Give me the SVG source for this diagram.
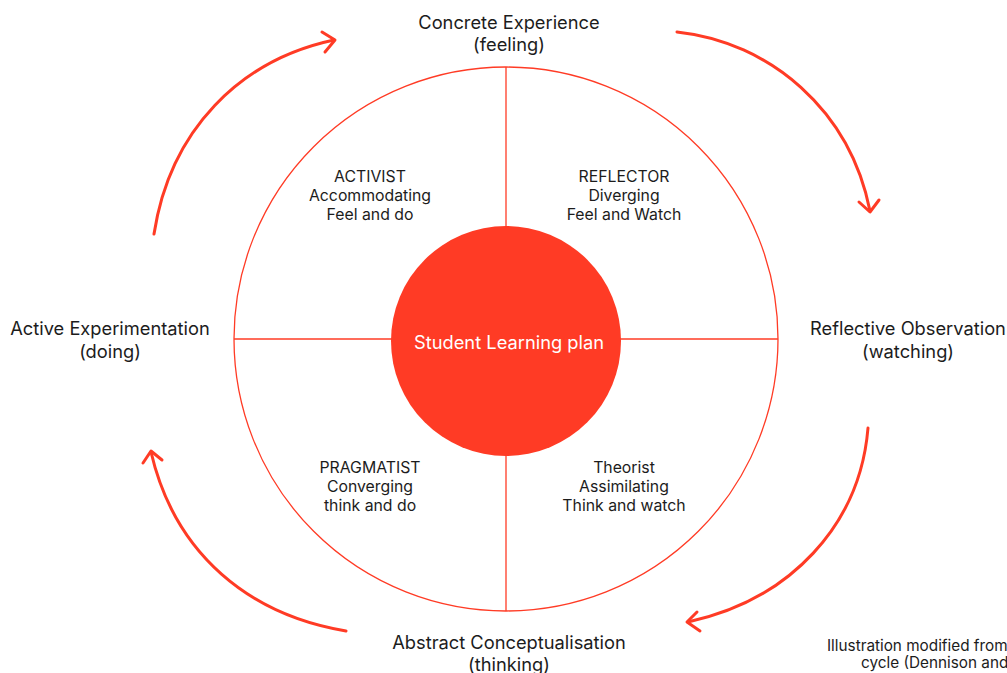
<svg xmlns="http://www.w3.org/2000/svg" width="1007" height="673" viewBox="0 0 1007 673">
<style>
.t{font-family:Inter,"Liberation Sans",sans-serif;fill:#1c1c1c;text-anchor:middle}
.big{font-size:18.3px}
.q{font-size:15.8px}
.n{font-family:Inter,"Liberation Sans",sans-serif;fill:#1c1c1c;font-size:15.3px}
.thin{fill:none;stroke:#FF3B25;stroke-width:1.3}
.arc{fill:none;stroke:#FF3B25;stroke-width:3;stroke-linecap:round;stroke-linejoin:round}
</style>
<rect width="1007" height="673" fill="#ffffff"/>
<g id="outer-circle">
<circle cx="506" cy="339" r="272" class="thin"/>
<line x1="506" y1="67" x2="506" y2="227" class="thin"/>
<line x1="506" y1="451" x2="506" y2="611" class="thin"/>
<line x1="234" y1="339" x2="394" y2="339" class="thin"/>
<line x1="618" y1="339" x2="778" y2="339" class="thin"/>
</g>
<g id="center">
<circle cx="506" cy="341" r="115" fill="#FF3B25"/>
<text x="509" y="349" class="t big" style="fill:#ffffff">Student Learning plan</text>
</g>
<g id="concrete-experience">
<text x="509" y="29" class="t big">Concrete Experience</text>
<text x="509" y="51" class="t big">(feeling)</text>
</g>
<g id="reflective-observation">
<text x="908" y="335" class="t big">Reflective Observation</text>
<text x="908" y="358" class="t big">(watching)</text>
</g>
<g id="abstract-conceptualisation">
<text x="509" y="649" class="t big">Abstract Conceptualisation</text>
<text x="509" y="671" class="t big">(thinking)</text>
</g>
<g id="active-experimentation">
<text x="110" y="335" class="t big">Active Experimentation</text>
<text x="110" y="358" class="t big">(doing)</text>
</g>
<g id="activist">
<text x="370" y="182" class="t q">ACTIVIST</text>
<text x="370" y="201" class="t q">Accommodating</text>
<text x="370" y="220" class="t q">Feel and do</text>
</g>
<g id="reflector">
<text x="624" y="182" class="t q">REFLECTOR</text>
<text x="624" y="201" class="t q">Diverging</text>
<text x="624" y="220" class="t q">Feel and Watch</text>
</g>
<g id="pragmatist">
<text x="370" y="473" class="t q">PRAGMATIST</text>
<text x="370" y="492" class="t q">Converging</text>
<text x="370" y="511" class="t q">think and do</text>
</g>
<g id="theorist">
<text x="624" y="473" class="t q">Theorist</text>
<text x="624" y="492" class="t q">Assimilating</text>
<text x="624" y="511" class="t q">Think and watch</text>
</g>
<g id="note">
<text x="827" y="651" class="n">Illustration modified from</text>
<text x="861" y="668" class="n">cycle (Dennison and</text>
</g>
<g id="connectors">
<path class="arc" d="M154,234 C170,130 240,60 334,40"/>
<path class="arc" d="M322,32 L335,40 L325,52"/>
<path class="arc" d="M677,32 C770,42 850,110 870,211"/>
<path class="arc" d="M859,202 L870,212 L879,200"/>
<path class="arc" d="M868,428 C860,525 790,600 688,622"/>
<path class="arc" d="M697,612 L687,622 L700,631"/>
<path class="arc" d="M346,631 C250,615 175,555 151,452"/>
<path class="arc" d="M143,463 L151,451 L162,460"/>
</g>
</svg>
